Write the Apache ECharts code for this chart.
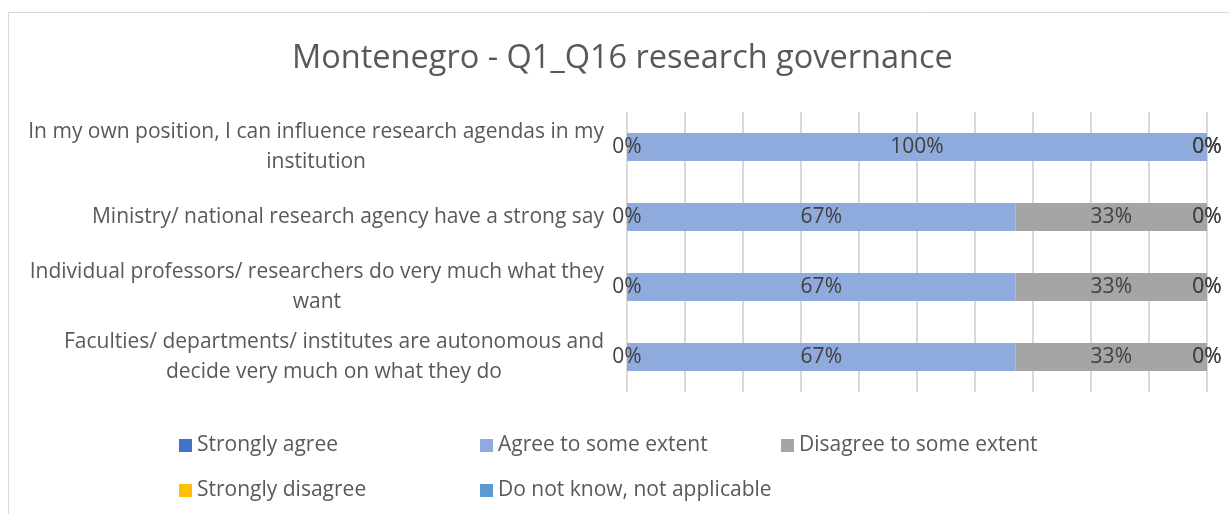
<!DOCTYPE html>
<html><head><meta charset="utf-8">
<script src="https://cdn.jsdelivr.net/npm/echarts@6/dist/echarts.min.js"></script>
<style>html,body{margin:0;padding:0;background:#fff}#c{width:1229px;height:514px}</style>
</head><body><div id="c"></div>
<script>
// categories, top to bottom
const categories = [
  'In my own position, I can influence research agendas in my\ninstitution',
  'Ministry/ national research agency have a strong say',
  'Individual professors/ researchers do very much what they\nwant',
  'Faculties/ departments/ institutes are autonomous and\ndecide very much on what they do'
];
const seriesNames = ['Strongly agree','Agree to some extent','Disagree to some extent','Strongly disagree','Do not know, not applicable'];
const stronglyAgree = [0, 0, 0, 0];
const agreeSome = [100, 67, 67, 67];
const disagreeSome = [0, 33, 33, 33];
const stronglyDisagree = [0, 0, 0, 0];
const doNotKnow = [0, 0, 0, 0];
const colors = ['#4472C4','#8FAADC','#A5A5A5','#FFC000','#5B9BD5'];
const values = [stronglyAgree, agreeSome, disagreeSome, stronglyDisagree, doNotKnow];

const FONT = '"Open Sans", sans-serif';
const chart = echarts.init(document.getElementById('c'));

const legendPos = [[179,435],[480,435],[781,435],[179,480],[480,480]];

chart.setOption({
  animation: false,
  color: colors,
  graphic: [{type:'rect', shape:{x:8.5,y:12.5,width:1240,height:520}, style:{fill:'none', stroke:'#D9D9D9', lineWidth:1}}],
  title: {
    text: 'Montenegro - Q1_Q16 research governance',
    left: 287, top: 37,
    textStyle: {fontFamily: FONT, fontSize: 32.5, fontWeight: 'normal', color: '#595959'}
  },
  legend: seriesNames.map((n,i) => ({
    data: [n], left: legendPos[i][0], top: legendPos[i][1], padding: 0,
    icon: 'rect', itemWidth: 13, itemHeight: 13,
    textStyle: {fontFamily: FONT, fontSize: 21, color: '#595959'}
  })),
  grid: {left: 627, right: 22, top: 112, bottom: 122, containLabel: false},
  xAxis: {
    type: 'value', min: 0, max: 100, interval: 10,
    axisLabel: {show: false}, axisLine: {show: false}, axisTick: {show: false},
    splitLine: {lineStyle: {color: '#D9D9D9', width: 2}}
  },
  yAxis: {
    type: 'category', inverse: true, data: categories,
    axisLine: {show: false}, axisTick: {show: false},
    axisLabel: {
      margin: 23, align: 'right',
      fontFamily: FONT, fontSize: 21, color: '#595959', lineHeight: 30,
      formatter: v => v.split('\n').map(l => '{c|' + l + '}').join('\n'),
      rich: {c: {align: 'center', fontFamily: FONT, fontSize: 21, color: '#595959', lineHeight: 30}}
    }
  },
  series: seriesNames.map((n,i) => ({
    name: n, type: 'bar', stack: 'total', data: values[i],
    barWidth: 28,
    label: {show: true, position: 'inside', formatter: p => p.value + '%',
      fontFamily: FONT, fontSize: 21, color: '#404040'}
  }))
});
</script></body></html>
